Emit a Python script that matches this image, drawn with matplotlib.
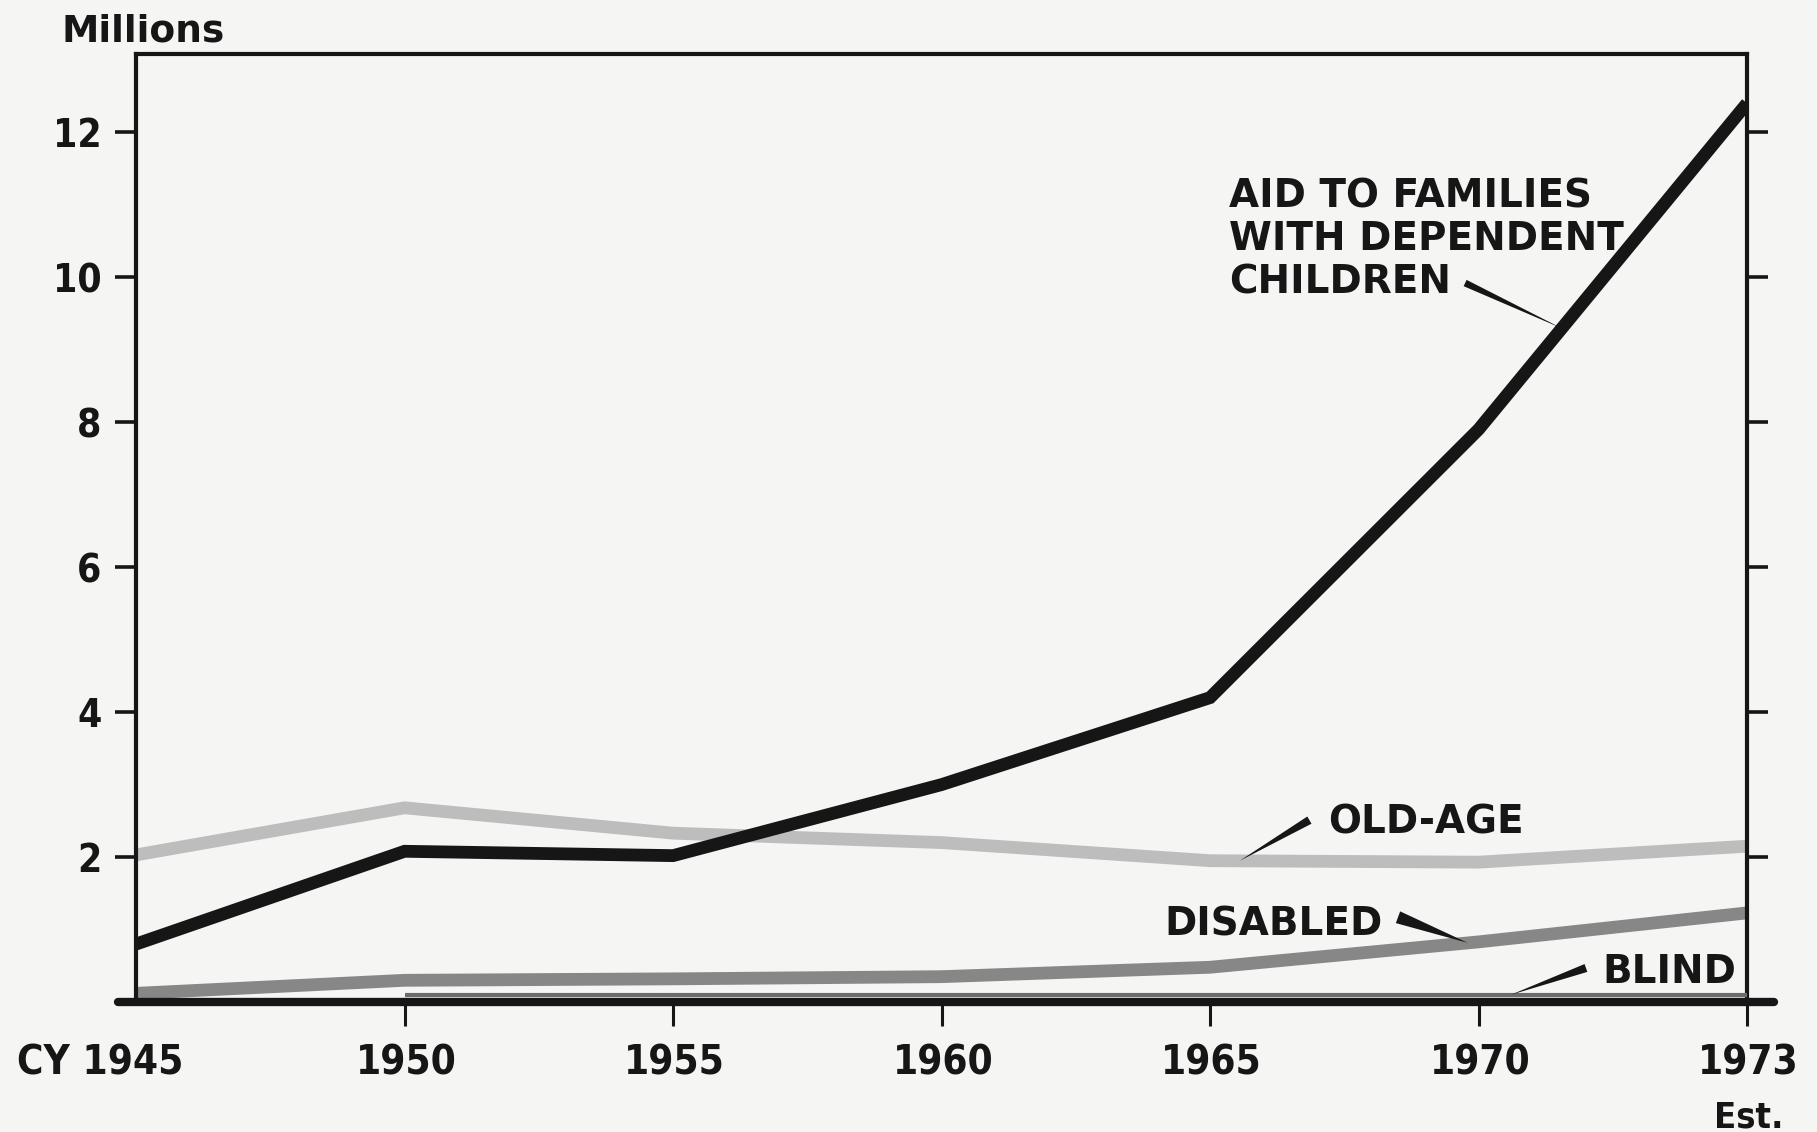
import numpy as np
import matplotlib
matplotlib.use("Agg")
import matplotlib.pyplot as plt

# Recipients of public assistance, millions, by calendar year
years = ["CY 1945", "1950", "1955", "1960", "1965", "1970", "1973"]
afdc = [0.8, 2.08, 2.02, 3.0, 4.2, 7.9, 12.4]
old_age = [2.03, 2.68, 2.33, 2.2, 1.95, 1.93, 2.15]
disabled = [0.12, 0.30, 0.32, 0.35, 0.48, 0.83, 1.23]
blind = [np.nan, 0.10, 0.10, 0.10, 0.10, 0.10, 0.10]
y_ticks = [2, 4, 6, 8, 10, 12]
y_tick_labels = ["2", "4", "6", "8", "10", "12"]

PAPER = "#f5f5f4"
INK = "#161616"
C_OLD = "#bdbdbd"
C_DIS = "#878787"
C_BLIND = "#6c6c6c"

plt.rcParams["font.family"] = ["DejaVu Sans"]
W = "bold"

fig = plt.figure(figsize=(18.17, 11.32), dpi=100, facecolor=PAPER)
ax = fig.add_axes([0.0749, 0.1148, 0.8866, 0.8375])
ax.set_facecolor(PAPER)

x = np.arange(len(years))
ax.set_xlim(0, len(years) - 1)
ax.set_ylim(0, 13.08)

lw = 9.2
ax.plot(x, old_age, color=C_OLD, lw=lw, solid_capstyle="butt", solid_joinstyle="round", zorder=2)
ax.plot(x, disabled, color=C_DIS, lw=lw, solid_capstyle="butt", solid_joinstyle="round", zorder=2)
ax.plot(x, blind, color=C_BLIND, lw=3, solid_capstyle="butt", zorder=6)
ax.plot(x, afdc, color=INK, lw=lw, solid_capstyle="butt", solid_joinstyle="miter", zorder=3)

# frame
for side in ("left", "right", "top"):
    ax.spines[side].set_linewidth(3)
    ax.spines[side].set_color(INK)
ax.spines["bottom"].set_visible(False)
ax.axhline(0, xmin=-0.0112, xmax=1.0168, color=INK, lw=6, solid_capstyle="round",
           clip_on=False, zorder=5)

ax.set_yticks(y_ticks)
ax.set_yticklabels(y_tick_labels)
ax.tick_params(axis="y", left=True, right=True, direction="out", length=15, width=2.6,
               color=INK, labelsize=28, pad=10, labelcolor=INK)
for lab in ax.get_yticklabels():
    lab.set_fontweight(W)
    lab.set_fontstretch("condensed")

ax.set_xticks(x[1:])
ax.tick_params(axis="x", direction="out", length=17, width=2.2, color=INK, labelbottom=False)

# year labels under the axis
for i, lab in enumerate(years):
    if i == 0:
        ha, dx = "right", 34
    else:
        ha, dx = "center", 1
    ax.annotate(lab, xy=(i, 0), xycoords=("data", "axes fraction"), xytext=(dx, -52.5),
                textcoords="offset points", ha=ha, va="baseline", fontsize=29,
                fontweight=W, fontstretch="condensed", color=INK, annotation_clip=False)
ax.annotate("Est.", xy=(x[-1], 0), xycoords=("data", "axes fraction"), xytext=(1.5, -90),
            textcoords="offset points", ha="center", va="baseline", fontsize=26,
            fontweight=W, fontstretch="condensed", color=INK, annotation_clip=False)

fig.text(61 / 1817, 1 - 42 / 1132, "Millions", fontsize=27, fontweight=W, color=INK,
         ha="left", va="baseline")


def leader(series, i_head, tail, width):
    s = np.asarray(series, dtype=float)
    ok = ~np.isnan(s)
    y_head = float(np.interp(i_head, x[ok], s[ok]))
    ax.annotate("", xy=(i_head, y_head), xytext=tail,
                arrowprops=dict(arrowstyle=f"wedge,tail_width={width},shrink_factor=0.5",
                                fc=INK, ec=INK, lw=0, shrinkA=0, shrinkB=0,
                                mutation_scale=10), zorder=7)


series_labels = {
    "afdc": "AID TO FAMILIES\nWITH DEPENDENT\nCHILDREN",
    "old": "OLD-AGE",
    "dis": "DISABLED",
    "blind": "BLIND",
}
ax.text(4.07, 9.78, series_labels["afdc"], fontsize=28, fontweight=W, color=INK,
        ha="left", va="baseline", linespacing=1.16)
ax.text(4.44, 2.33, series_labels["old"], fontsize=28, fontweight=W, color=INK,
        ha="left", va="baseline")
ax.text(3.83, 0.92, series_labels["dis"], fontsize=28, fontweight=W, color=INK,
        ha="left", va="baseline")
ax.text(5.46, 0.26, series_labels["blind"], fontsize=28, fontweight=W, color=INK,
        ha="left", va="baseline")

leader(afdc, 5.31, (4.95, 9.92), 0.5)
leader(old_age, 4.11, (4.37, 2.51), 0.6)
leader(disabled, 4.96, (4.70, 1.17), 0.9)
leader(blind, 5.12, (5.40, 0.47), 0.6)

fig.savefig("out.png", dpi=100, facecolor=PAPER)
